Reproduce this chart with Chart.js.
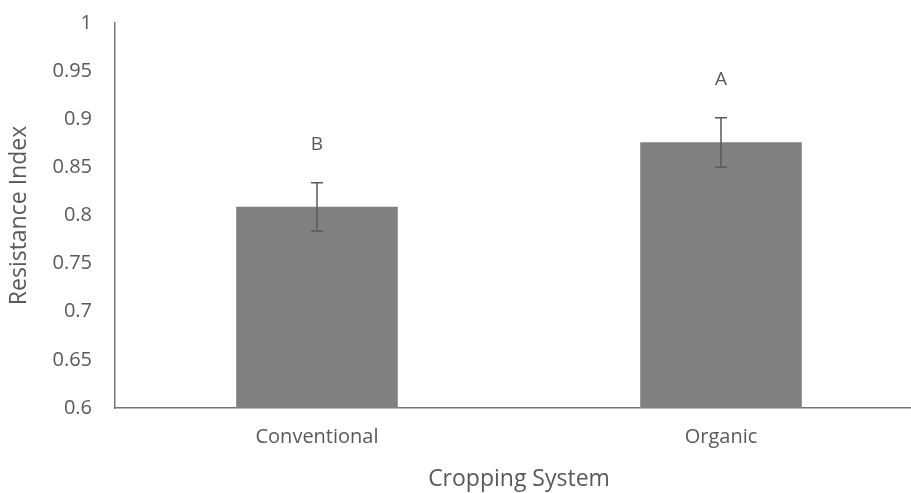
<!DOCTYPE html>
<html>
<head>
<meta charset="utf-8">
<script src="https://cdn.jsdelivr.net/npm/chart.js@4/dist/chart.umd.min.js"></script>
<style>
  html, body { margin: 0; padding: 0; background: #fff; overflow: hidden; }
  #wrap { width: 911px; height: 493px; overflow: hidden; }
</style>
</head>
<body>
<div id="wrap"><canvas id="chart" width="925" height="493"></canvas></div>
<script>
// data
var categories = ["Conventional", "Organic"];
var resistance = [0.809, 0.876];
var errors = [0.025, 0.0255];
var letters = ["B", "A"];

var textColor = "#595959";
var fontFamily = "'Open Sans', 'Liberation Sans', sans-serif";

// error bars + significance letters
var errorBarPlugin = {
    id: "errorBars",
    afterDatasetsDraw: function(chart) {
        var ctx = chart.ctx;
        var meta = chart.getDatasetMeta(0);
        var y = chart.scales.y;
        ctx.save();
        for (let i = 0; i < meta.data.length; i++) {
            var x = meta.data[i].x;
            var top = y.getPixelForValue(resistance[i] + errors[i]);
            var bottom = y.getPixelForValue(resistance[i] - errors[i]);
            ctx.strokeStyle = "#5a5a5a";
            ctx.lineWidth = 1.5;
            ctx.beginPath();
            ctx.moveTo(x, top); ctx.lineTo(x, bottom);
            ctx.moveTo(x - 6, top); ctx.lineTo(x + 6, top);
            ctx.moveTo(x - 6, bottom); ctx.lineTo(x + 6, bottom);
            ctx.stroke();

            ctx.fillStyle = textColor;
            ctx.font = "19px " + fontFamily;
            ctx.textAlign = "center";
            ctx.textBaseline = "middle";
            ctx.fillText(letters[i], x, top - 38);
        }
        ctx.restore();
    }
};

new Chart(document.getElementById("chart").getContext("2d"), {
    type: "bar",
    data: {
        labels: categories,
        datasets: [{
            data: resistance,
            backgroundColor: "#808080",
            barPercentage: 1,
            categoryPercentage: 0.4
        }]
    },
    options: {
        responsive: false,
        animation: false,
        layout: { padding: { top: 23, right: 2, left: 0, bottom: 0 } },
        plugins: { legend: { display: false }, tooltip: { enabled: false } },
        scales: {
            y: {
                min: 0.6,
                max: 1,
                ticks: {
                    stepSize: 0.05,
                    color: textColor,
                    font: { family: fontFamily, size: 20 },
                    padding: 23,
                    callback: function(v) { return Math.round(v * 100) / 100; }
                },
                grid: { display: false, drawTicks: false },
                border: { display: true, color: "#767676", width: 1.5 },
                title: {
                    display: true,
                    text: "Resistance Index",
                    color: textColor,
                    font: { family: fontFamily, size: 23 },
                    padding: { top: 6, bottom: 0 }
                },
                afterFit: function(scale) {
                    scale.width = 115;
                    scale.paddingTop = 0;
                    scale.paddingBottom = 0;
                }
            },
            x: {
                ticks: {
                    color: textColor,
                    font: { family: fontFamily, size: 20 },
                    padding: 17
                },
                grid: { display: false, drawTicks: false },
                border: { display: true, color: "#767676", width: 1.5 },
                title: {
                    display: true,
                    text: "Cropping System",
                    color: textColor,
                    font: { family: fontFamily, size: 23 },
                    padding: { top: 4, bottom: 0 }
                },
                afterFit: function(scale) { scale.height = 85; }
            }
        }
    },
    plugins: [errorBarPlugin]
});
</script>
</body>
</html>
